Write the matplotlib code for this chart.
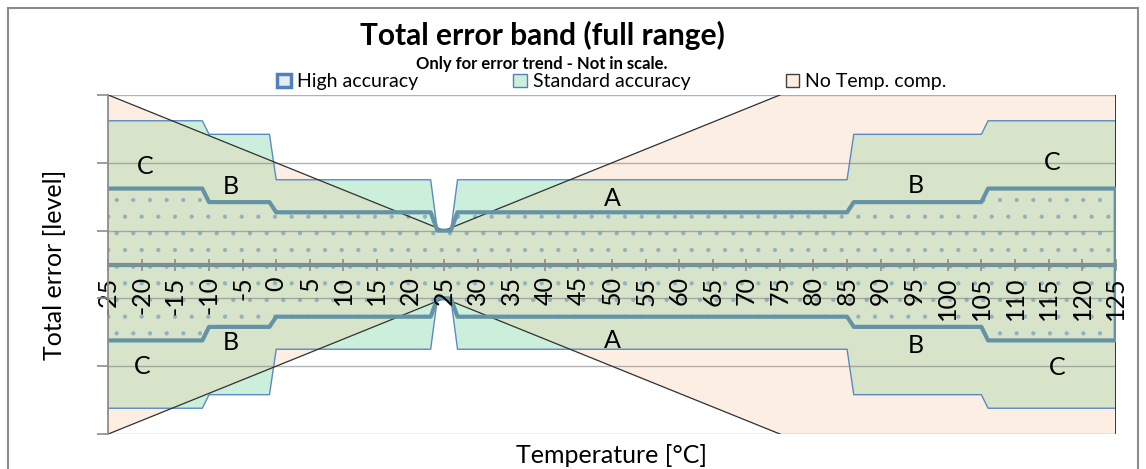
import numpy as np
import matplotlib
matplotlib.use("Agg")
import matplotlib.pyplot as plt
from matplotlib.patches import Patch, Rectangle, Polygon

plt.rcParams['font.family'] = ['Lato', 'DejaVu Sans']
plt.rcParams['axes.unicode_minus'] = False
plt.rcParams['hatch.linewidth'] = 0.6

# temperature break points [°C]
temps = [-25, -11, -10, -1, 0, 23, 24, 26, 27, 85, 86, 105, 106, 125]
# half band width (symmetric around 0), arbitrary "levels"
std_upper = [2.12, 2.12, 1.92, 1.92, 1.25, 1.25, 0.5, 0.5, 1.25, 1.25, 1.92, 1.92, 2.12, 2.12]
high_upper = [1.12, 1.12, 0.92, 0.92, 0.77, 0.77, 0.5, 0.5, 0.77, 0.77, 0.92, 0.92, 1.12, 1.12]
# no temperature compensation: V shape
nt_temps = [-25, 25, 125]
nt_upper = [2.5, 0.5, 4.5]

xticks = list(range(-25, 126, 5))
yticks = [-2.5, -1.5, -0.5, 0.5, 1.5, 2.5]

# zone labels (text, temp, level)
zone_labels = [('C', -19.5, 1.45), ('B', -6.7, 1.15), ('A', 50, 0.97),
               ('B', 95.3, 1.17), ('C', 115.5, 1.5),
               ('C', -20, -1.5), ('B', -6.7, -1.15), ('A', 50, -1.12),
               ('B', 95.3, -1.2), ('C', 116.3, -1.52)]

peach = '#fdeee3'
mint = '#ccefdb'
overlap = '#d7e4c9'
high_line = '#6593a6'
std_line = '#5a8ac6'
gray = '#8c8c8c'

W, H = 1146, 469
fig = plt.figure(figsize=(W / 100, H / 100), dpi=100)
ax = fig.add_axes([108.3 / W, 1 - 434 / H, (1115.7 - 108.3) / W, (434 - 95) / H])
ax.set_xlim(-25, 125)
ax.set_ylim(-2.5, 2.5)

t = np.array(temps, dtype=float)
su = np.array(std_upper)
hu = np.array(high_upper)
nt = np.array(nt_temps, dtype=float)
nu = np.array(nt_upper)

def band(x, up):
    return np.column_stack([np.r_[x, x[::-1]], np.r_[up, -up[::-1]]])

# no temp comp band
nt_poly = Polygon(band(nt, nu), closed=True, facecolor=peach, edgecolor='none', zorder=1)
ax.add_patch(nt_poly)
# standard band
ax.add_patch(Polygon(band(t, su), closed=True, facecolor=mint, edgecolor='none', zorder=1.1))
ov = Polygon(band(t, su), closed=True, facecolor=overlap, edgecolor='none', zorder=1.2)
ax.add_patch(ov)
ov.set_clip_path(nt_poly)

# high accuracy dotted fill
ax.fill_between(t, -hu, hu, facecolor='none', edgecolor='#8fb2be', linewidth=0,
                hatch='.', zorder=1.3)

# gridlines
for yv in yticks:
    ax.axhline(yv, color='#808080', lw=1, alpha=0.6, zorder=1.5)

# borders
ax.plot(np.r_[t, t[-1], t[::-1]], np.r_[su, -su[-1], -su[::-1]], color=std_line, lw=1, zorder=2)
ax.plot(np.r_[nt, nt[-1], nt[::-1]], np.r_[nu, -nu[-1], -nu[::-1]], color='#303030', lw=0.9, zorder=2.2)
ax.plot(np.r_[t, t[-1], t[::-1]], np.r_[hu, -hu[-1], -hu[::-1]], color=high_line, lw=3,
        solid_joinstyle='round', zorder=2.4)
ax.axhline(0, color=high_line, lw=3, zorder=2.4)

for txt, x, y in zone_labels:
    ax.text(x, y, txt, fontsize=18, ha='center', va='center', zorder=3)

# axes
for s in ['top', 'right']:
    ax.spines[s].set_visible(False)
ax.spines['left'].set_color(gray)
ax.spines['left'].set_linewidth(1.3)
ax.spines['left'].set_zorder(4)
ax.spines['bottom'].set_position(('data', 0))
ax.spines['bottom'].set_color(gray)
ax.spines['bottom'].set_linewidth(1.2)
ax.spines['bottom'].set_zorder(4)
ax.set_xticks(xticks)
ax.set_xticklabels([str(v) for v in xticks], rotation=90, fontsize=18)
ax.tick_params(axis='x', direction='inout', length=9, width=1.2, color=gray, pad=4)
ax.set_yticks(yticks)
ax.set_yticklabels([])
ax.tick_params(axis='y', direction='out', length=8, width=1.2, color=gray)
ax.set_axisbelow(False)
for lab in ax.get_xticklabels():
    lab.set_zorder(5)

fig.text(55 / W, 1 - 265 / H, 'Total error [level]', rotation=90, fontsize=18,
         ha='center', va='center')
fig.text(612 / W, 1 - 455 / H, 'Temperature [°C]', fontsize=18, ha='center', va='center')
fig.text(542 / W, 1 - 35 / H, 'Total error band (full range)', fontsize=21.5,
         fontweight='bold', ha='center', va='center')
fig.text(542 / W, 1 - 64 / H, 'Only for error trend - Not in scale.', fontsize=12,
         fontweight='bold', ha='center', va='center')

handles = [Patch(facecolor='#e4ecf4', edgecolor='#4f81bd', linewidth=2.5, label='High accuracy'),
           Patch(facecolor=mint, edgecolor='#4f81bd', linewidth=1, label='Standard accuracy'),
           Patch(facecolor=peach, edgecolor='#404040', linewidth=1, label='No Temp. comp.')]
fig.legend(handles=handles, loc='center', bbox_to_anchor=(612 / W, 1 - 82 / H), ncol=3,
           frameon=False, fontsize=14, handlelength=0.7, handleheight=0.7,
           handletextpad=0.3, columnspacing=4.9, borderpad=0)

fig.patches.append(Rectangle((8 / W, -0.05), 1130 / W, 1.05 - 8 / H, transform=fig.transFigure,
                             fill=False, edgecolor='#8c8c8c', lw=1.5))

fig.savefig('out.png', dpi=100)
